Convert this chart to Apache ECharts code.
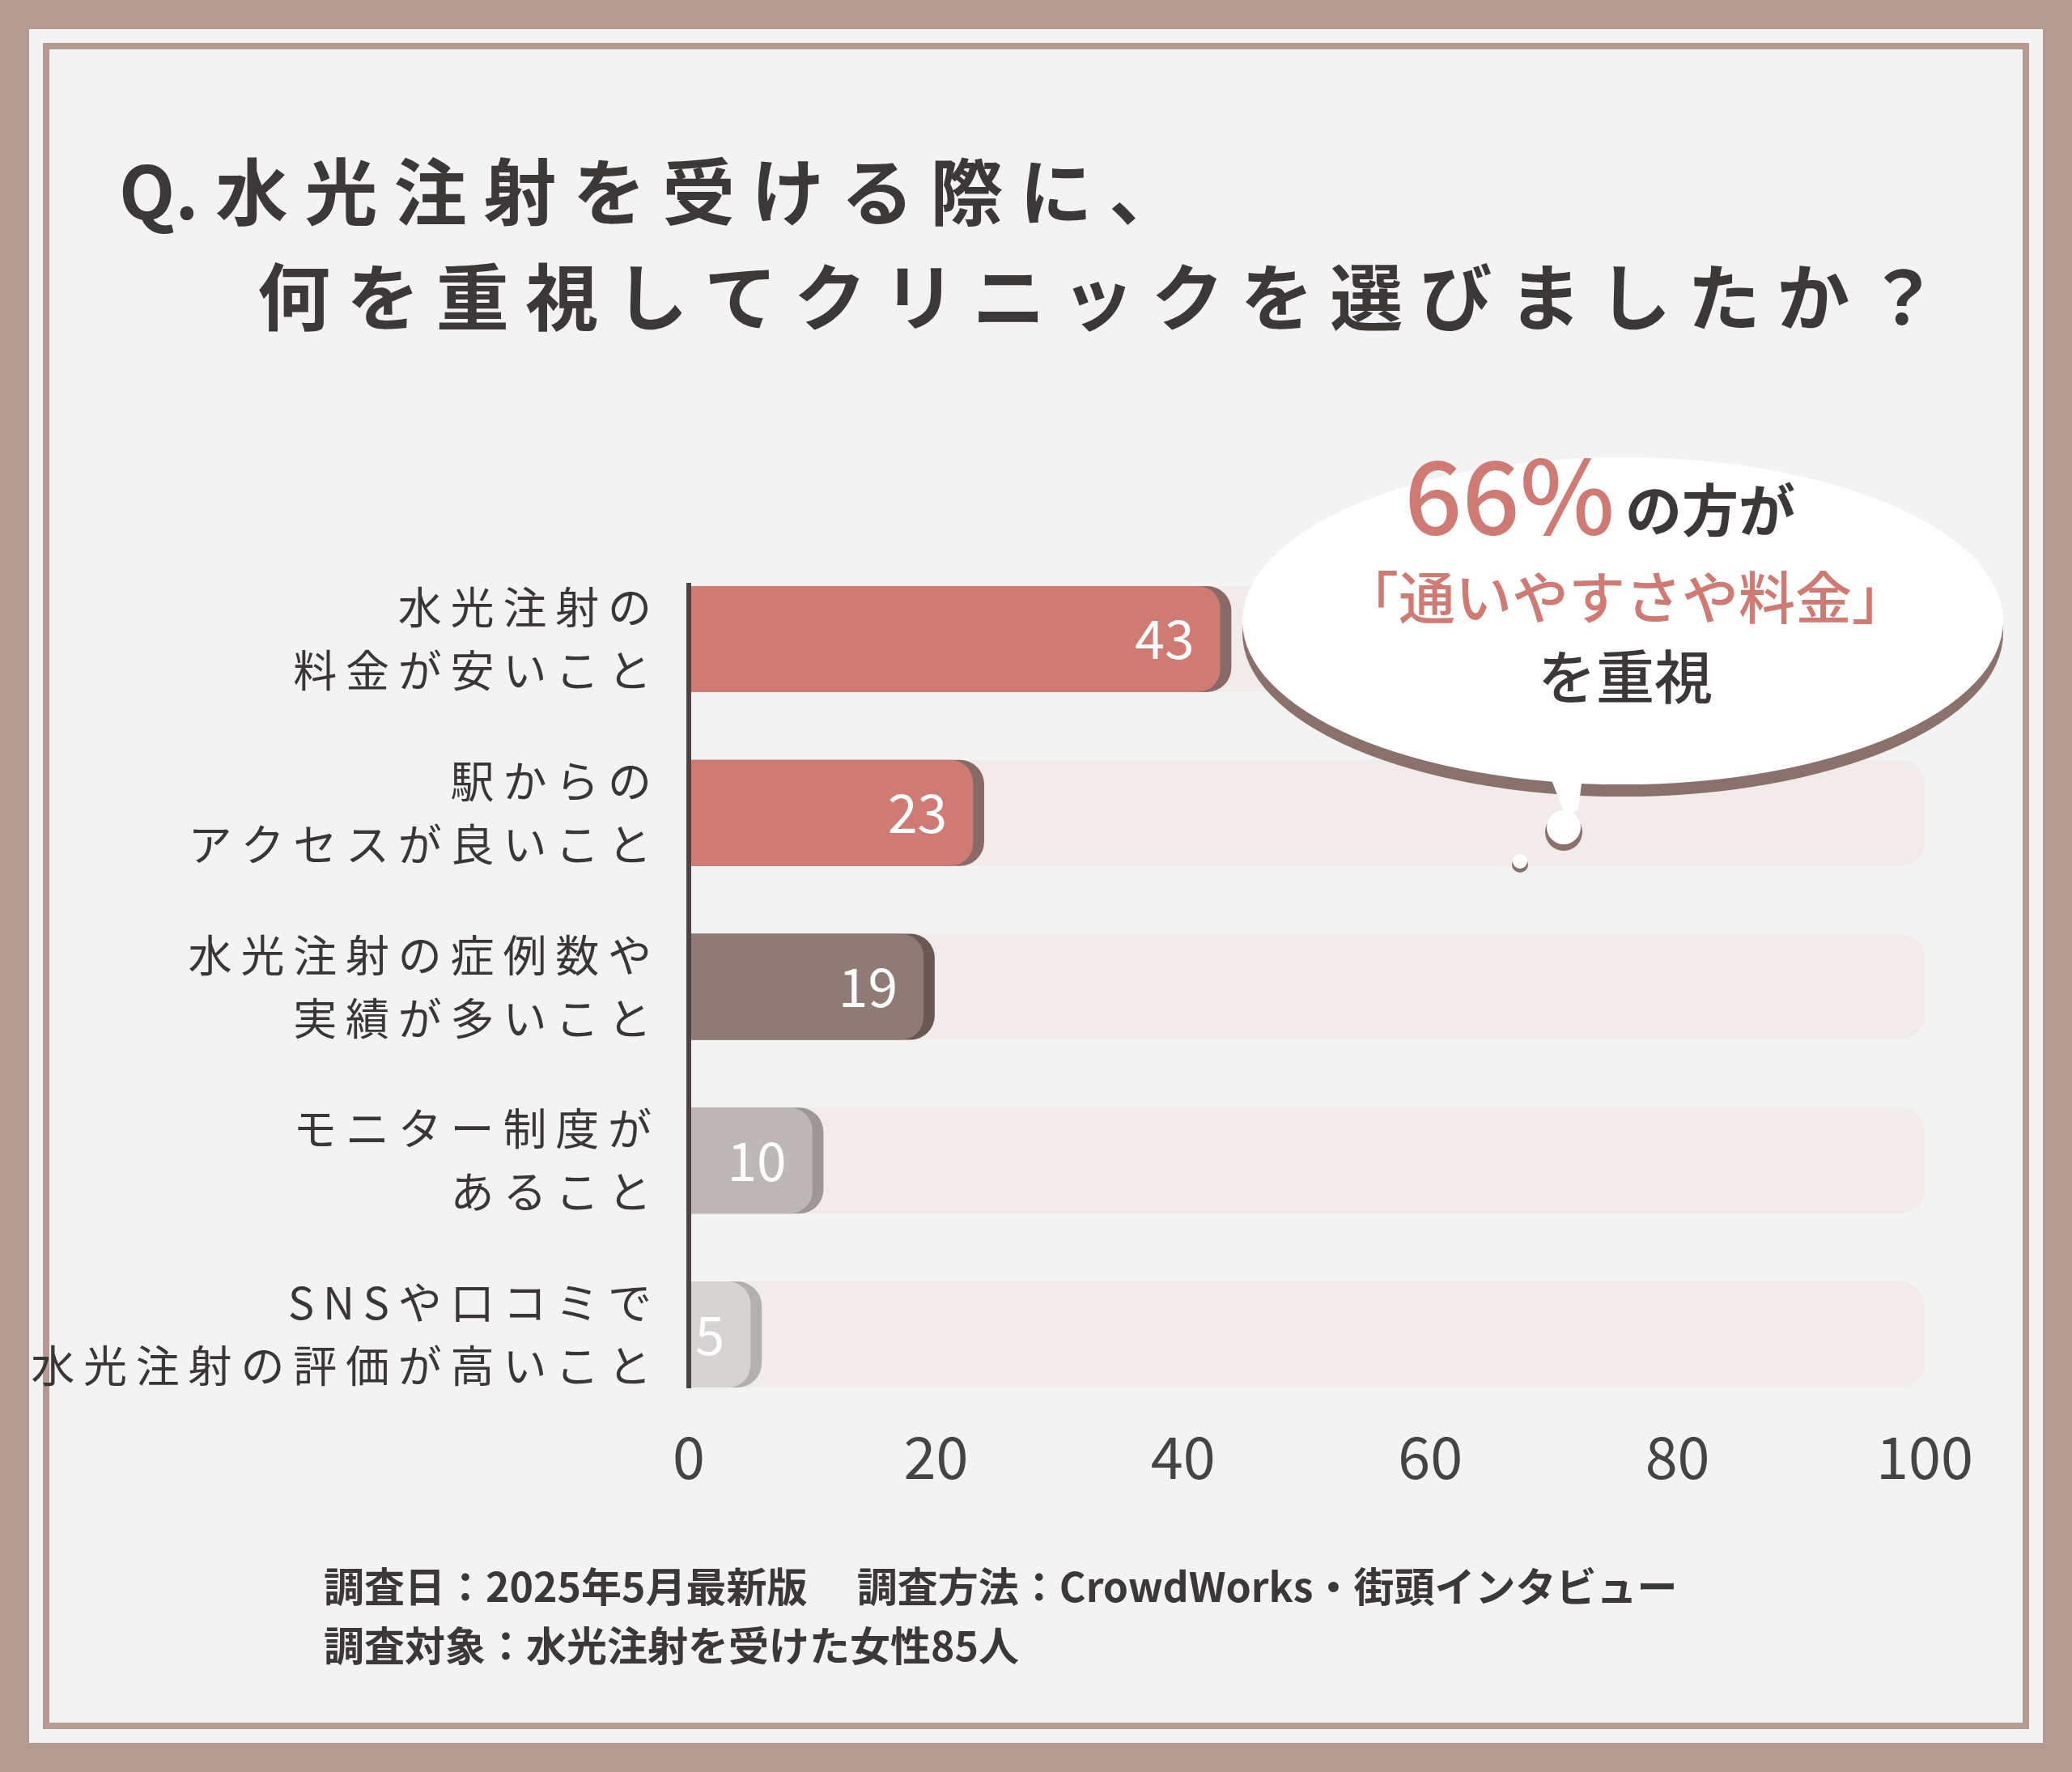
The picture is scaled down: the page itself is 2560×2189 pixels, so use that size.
<!DOCTYPE html>
<html><head><meta charset="utf-8">
<script src="https://cdn.jsdelivr.net/npm/echarts@6/dist/echarts.min.js"></script>
<style>html,body{margin:0;padding:0;background:#b59a92}#c{width:2560px;height:2189px}</style>
</head><body><div id="c"></div>
<script>
const categories = ['水光注射の\n料金が安いこと','駅からの\nアクセスが良いこと','水光注射の症例数や\n実績が多いこと','モニター制度が\nあること','SNSや口コミで\n水光注射の評価が高いこと'];
const values = [43,23,19,10,5];
const barColors = ['#d07a74','#d07a74','#8f7a76','#bdb8b6','#d6d3d2'];
const shadowColors = ['#8a6a66','#8a6a66','#6a5855','#9d9896','#b3afad'];
const xTicks = [0,20,40,60,80,100];

const font = '"Noto Sans CJK JP", sans-serif';
const chart = echarts.init(document.getElementById('c'));
const cats = categories.slice().reverse();
const vals = values.slice().reverse();
const bc = barColors.slice().reverse();
const sc = shadowColors.slice().reverse();
const spaced = s => s.split('\n').map(l => Array.from(l).join('\u2009')).join('\n');
chart.setOption({
  backgroundColor: '#b59a92',
  animation: false,
  grid: {left: 851, right: 182, top: 682, bottom: 433, containLabel: false},
  xAxis: {type: 'value', min: 0, max: 100, interval: 20,
    axisLine: {show: false}, axisTick: {show: false}, splitLine: {show: false},
    axisLabel: {margin: 8, fontSize: 72, color: '#444', fontFamily: font}},
  yAxis: {type: 'category', data: cats,
    axisLine: {show: false}, axisTick: {show: false},
    axisLabel: {margin: 46, fontSize: 54, color: '#3a3636', fontFamily: font, lineHeight: 78, align: 'right', formatter: spaced}},
  series: [
    {type: 'bar', data: vals.map(() => 100), barWidth: 131, barGap: '-100%', silent: true,
      itemStyle: {color: '#f1ecea', borderRadius: [0, 30, 30, 0]}, z: 1},
    {type: 'bar', data: vals.map((v, i) => ({value: v + 0.9, itemStyle: {color: sc[i]}})), barWidth: 131, barGap: '-100%',
      itemStyle: {borderRadius: [0, 30, 30, 0]}, z: 2},
    {type: 'bar', data: vals.map((v, i) => ({value: v, itemStyle: {color: bc[i]}})), barWidth: 131, barGap: '-100%',
      itemStyle: {borderRadius: [0, 28, 28, 0]}, z: 3,
      label: {show: true, position: 'insideRight', distance: 32, color: '#fff', fontSize: 66, fontFamily: font}}
  ],
  graphic: [
    {type: 'rect', shape: {x: 36, y: 36, width: 2488, height: 2117}, style: {fill: '#f4f3f3'}, z: -10, silent: true},
    {type: 'rect', shape: {x: 57, y: 57, width: 2446, height: 2075}, style: {fill: 'none', stroke: '#b59a92', lineWidth: 8}, z: -9},
    {type: 'line', shape: {x1: 851, y1: 720, x2: 851, y2: 1715}, style: {stroke: '#4a4444', lineWidth: 6}, z: 10},
    {type: 'text', x: 147, y: 237, style: {text: 'Q. 水 光 注 射 を 受 け る 際 に 、', font: 'bold 90px ' + font, fill: '#3c3838', verticalAlign: 'middle'}},
    {type: 'text', x: 318, y: 367, style: {text: '何 を 重 視 し て ク リ ニ ッ ク を 選 び ま し た か ？', font: 'bold 90px ' + font, fill: '#3c3838', verticalAlign: 'middle'}},
    {type: 'circle', shape: {cx: 2005, cy: 782, r: 470}, scaleY: 0.43, originX: 2005, originY: 782, style: {fill: '#8a716b'}, z: 20},
    {type: 'circle', shape: {cx: 2005, cy: 767, r: 470}, scaleY: 0.43, originX: 2005, originY: 767, style: {fill: '#ffffff'}, z: 21},
    {type: 'polygon', shape: {points: [[1900, 920], [1960, 920], [1950, 1000], [1935, 1010]]}, style: {fill: '#ffffff'}, z: 21},
    {type: 'circle', shape: {cx: 1932, cy: 1028, r: 23}, style: {fill: '#8a716b'}, z: 20},
    {type: 'circle', shape: {cx: 1932, cy: 1022, r: 21}, style: {fill: '#ffffff'}, z: 21},
    {type: 'circle', shape: {cx: 1878, cy: 1068, r: 10}, style: {fill: '#8a716b'}, z: 20},
    {type: 'circle', shape: {cx: 1878, cy: 1064, r: 9}, style: {fill: '#ffffff'}, z: 21},
    {type: 'text', x: 1995, y: 612, z: 22, style: {text: '66%', font: '500 125px ' + font, fill: '#d07a74', align: 'right', verticalAlign: 'middle'}},
    {type: 'text', x: 2008, y: 630, z: 22, style: {text: 'の方が', font: 'bold 70px ' + font, fill: '#3c3838', align: 'left', verticalAlign: 'middle'}},
    {type: 'text', x: 2008, y: 738, z: 22, style: {text: '「通いやすさや料金」', font: '500 70px ' + font, fill: '#d07a74', align: 'center', verticalAlign: 'middle'}},
    {type: 'text', x: 2008, y: 836, z: 22, style: {text: 'を重視', font: '500 72px ' + font, fill: '#3c3838', align: 'center', verticalAlign: 'middle'}},
    {type: 'text', x: 400, y: 1960, style: {text: '調査日：2025年5月最新版　 調査方法：CrowdWorks・街頭インタビュー', font: 'bold 50px ' + font, fill: '#3c3838', verticalAlign: 'middle'}},
    {type: 'text', x: 400, y: 2033, style: {text: '調査対象：水光注射を受けた女性85人', font: 'bold 50px ' + font, fill: '#3c3838', verticalAlign: 'middle'}}
  ]
});
</script></body></html>
